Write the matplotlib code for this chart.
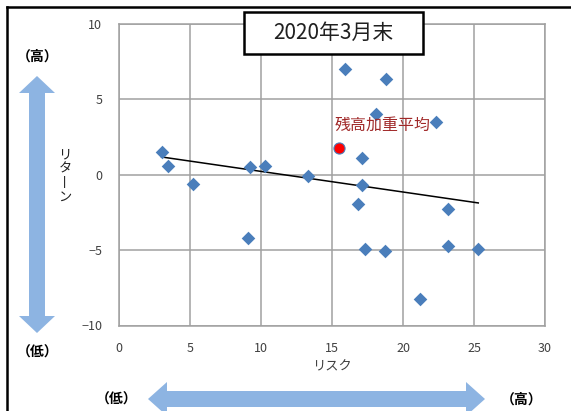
import matplotlib.pyplot as plt
from matplotlib.patches import Polygon, Rectangle
from matplotlib.lines import Line2D

plt.rcParams['font.family'] = ['Noto Sans CJK JP', 'DejaVu Sans']

# リスク / リターン (個別ファンド)
risk = [3.0, 3.45, 5.2, 9.2, 10.3, 9.1, 15.9, 18.8, 18.1, 22.3, 17.1, 13.3,
        17.1, 16.8, 23.2, 17.35, 18.75, 23.15, 25.3, 21.2]
ret = [1.5, 0.6, -0.6, 0.5, 0.6, -4.2, 7.0, 6.35, 4.0, 3.5, 1.1, -0.05,
       -0.7, -1.95, -2.25, -4.9, -5.05, -4.75, -4.95, -8.25]

# 残高加重平均
avg_risk = [15.5]
avg_ret = [1.75]

# 近似直線 (読み取り値)
trend_x = [3.0, 25.3]
trend_y = [1.18, -1.87]

title = "2020年3月末"
xticks = [0, 5, 10, 15, 20, 25, 30]
yticks = [-10, -5, 0, 5, 10]

W, H = 571, 411
fig = plt.figure(figsize=(W / 100, H / 100), dpi=100)

def fx(px):
    return px / W

def fy(py):
    return 1 - py / H

ax = fig.add_axes([fx(119), fy(325.5), fx(545) - fx(119), fy(24) - fy(325.5)])
ax.scatter(risk, ret, marker='D', s=48, color='#4a7ebb', zorder=3, linewidths=0)
ax.plot(avg_risk, avg_ret, 'o', ms=8, color='#ff0000', mec='#4a7ebb', mew=0.8, zorder=4)
ax.plot(trend_x, trend_y, color='black', lw=1.1, zorder=2)

ax.set_xlim(0, 30)
ax.set_ylim(-10, 10)
ax.set_xticks(xticks)
ax.set_yticks(yticks)
ax.grid(True, color='#a0a0a0', lw=1.1)
ax.set_axisbelow(True)
for s in ax.spines.values():
    s.set_color('#a0a0a0')
    s.set_linewidth(1.1)
ax.tick_params(length=0, labelsize=9, labelcolor='#404040', pad=12)
ax.set_xlabel("リスク", fontsize=9.5, color='#404040', labelpad=4)

ax.text(avg_risk[0] - 0.3, avg_ret[0] + 1.0, "残高加重平均", fontsize=11.5,
        color='#a02828', va='bottom', ha='left')

# タイトル枠
fig.patches.append(Rectangle((fx(244), fy(54)), fx(423) - fx(244), fy(12) - fy(54),
                             transform=fig.transFigure, facecolor='white',
                             edgecolor='black', lw=1.8, zorder=5))
fig.text(fx(333), fy(33), title, fontsize=15, ha='center', va='center', zorder=6,
         color='#202020')

# 外枠
fig.add_artist(Line2D([fx(7), fx(571)], [fy(7), fy(7)], transform=fig.transFigure,
                      color='black', lw=1.8))
fig.add_artist(Line2D([fx(7), fx(7)], [fy(7), fy(411)], transform=fig.transFigure,
                      color='black', lw=1.8))

arrow_col = '#8db4e2'

def vert_arrow(cx, top, bot, hw=8, hhw=18, hl=17):
    pts = [(cx, top), (cx + hhw, top + hl), (cx + hw, top + hl), (cx + hw, bot - hl),
           (cx + hhw, bot - hl), (cx, bot), (cx - hhw, bot - hl), (cx - hw, bot - hl),
           (cx - hw, top + hl), (cx - hhw, top + hl)]
    return [(fx(x), fy(y)) for x, y in pts]

def horz_arrow(cy, left, right, hw=8, hhw=17, hl=19):
    pts = [(left, cy), (left + hl, cy - hhw), (left + hl, cy - hw), (right - hl, cy - hw),
           (right - hl, cy - hhw), (right, cy), (right - hl, cy + hhw), (right - hl, cy + hw),
           (left + hl, cy + hw), (left + hl, cy + hhw)]
    return [(fx(x), fy(y)) for x, y in pts]

fig.patches.append(Polygon(vert_arrow(37, 76, 333), closed=True, transform=fig.transFigure,
                           facecolor=arrow_col, edgecolor='none'))
fig.patches.append(Polygon(horz_arrow(399, 148, 485), closed=True, transform=fig.transFigure,
                           facecolor=arrow_col, edgecolor='none'))

lab = dict(fontsize=10, fontweight='bold', ha='center', va='center')
fig.text(fx(38), fy(57), "（高）", **lab)
fig.text(fx(38), fy(353), "（低）", **lab)
fig.text(fx(117), fy(400), "（低）", **lab)
fig.text(fx(522), fy(400), "（高）", **lab)

fig.text(fx(65), fy(176), "リ\nタ\n丨\nン", fontsize=9.5, ha='center', va='center',
         linespacing=1.1, color='#202020')

fig.savefig("out.png", dpi=100)
